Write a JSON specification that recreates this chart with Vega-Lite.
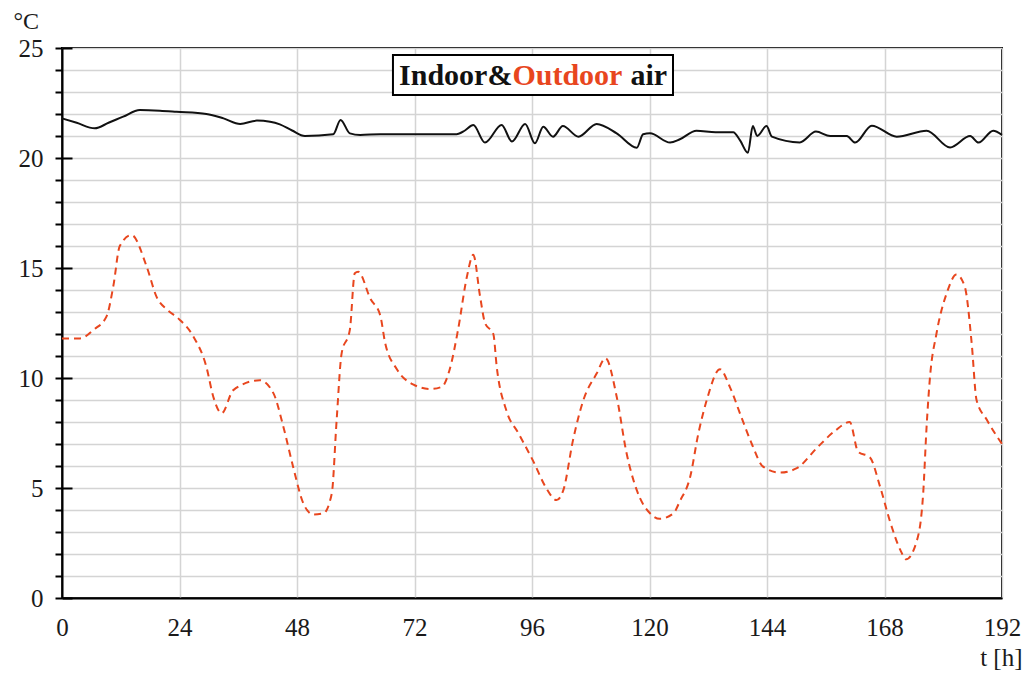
{
  "$schema": "https://vega.github.io/schema/vega-lite/v6.json",
  "width": 940,
  "height": 550,
  "autosize": {"type": "none"},
  "padding": {"left": 62, "top": 48, "right": 26, "bottom": 75},
  "background": "white",
  "config": {
    "font": "Liberation Serif",
    "view": {"stroke": "black", "strokeWidth": 2},
    "axis": {"labelFont": "Liberation Serif", "titleFont": "Liberation Serif"}
  },
  "datasets": {
    "indoor": [
      {"t": 0, "v": 21.8}, {"t": 3, "v": 21.6}, {"t": 6.7, "v": 21.35}, {"t": 9.5, "v": 21.6},
      {"t": 12.5, "v": 21.88}, {"t": 15.9, "v": 22.18}, {"t": 20, "v": 22.15}, {"t": 23.4, "v": 22.1},
      {"t": 29.5, "v": 22.0}, {"t": 33, "v": 21.8}, {"t": 36.4, "v": 21.55}, {"t": 39.8, "v": 21.7},
      {"t": 42.5, "v": 21.65}, {"t": 44.5, "v": 21.53}, {"t": 47, "v": 21.25}, {"t": 49.6, "v": 21.0},
      {"t": 55.4, "v": 21.08}, {"t": 56.9, "v": 21.73}, {"t": 58.8, "v": 21.12}, {"t": 60.9, "v": 21.05},
      {"t": 65, "v": 21.08}, {"t": 80.6, "v": 21.08}, {"t": 82.3, "v": 21.25}, {"t": 84.0, "v": 21.5},
      {"t": 86.4, "v": 20.7}, {"t": 89.8, "v": 21.5}, {"t": 91.9, "v": 20.75}, {"t": 94.6, "v": 21.55},
      {"t": 96.6, "v": 20.67}, {"t": 98.3, "v": 21.42}, {"t": 100.3, "v": 20.97}, {"t": 102.3, "v": 21.45},
      {"t": 105.5, "v": 20.97}, {"t": 109.2, "v": 21.55}, {"t": 113.3, "v": 21.12}, {"t": 117.4, "v": 20.47},
      {"t": 118.7, "v": 21.08}, {"t": 120.1, "v": 21.12}, {"t": 124.2, "v": 20.7}, {"t": 126.2, "v": 20.85},
      {"t": 129.6, "v": 21.24}, {"t": 133.5, "v": 21.17}, {"t": 137.1, "v": 21.17}, {"t": 138.5, "v": 20.8},
      {"t": 140.1, "v": 20.24}, {"t": 141.1, "v": 21.45}, {"t": 142.0, "v": 21.0}, {"t": 143.9, "v": 21.45},
      {"t": 145.0, "v": 20.97}, {"t": 150.7, "v": 20.71}, {"t": 154.0, "v": 21.2}, {"t": 156.9, "v": 21.0},
      {"t": 160.3, "v": 21.0}, {"t": 162.0, "v": 20.7}, {"t": 165.4, "v": 21.47}, {"t": 170.5, "v": 20.97},
      {"t": 176.6, "v": 21.24}, {"t": 181.4, "v": 20.48}, {"t": 185.5, "v": 21.0}, {"t": 187.2, "v": 20.7},
      {"t": 190.2, "v": 21.24}, {"t": 192, "v": 21.05}
    ],
    "outdoor": [
      {"t": 0, "v": 11.8}, {"t": 3.7, "v": 11.8}, {"t": 6.5, "v": 12.2}, {"t": 9.1, "v": 12.8},
      {"t": 10.5, "v": 14.2}, {"t": 11.8, "v": 16.0}, {"t": 14.2, "v": 16.5}, {"t": 17.3, "v": 15.06},
      {"t": 19.3, "v": 13.7}, {"t": 21.5, "v": 13.1}, {"t": 23.8, "v": 12.7}, {"t": 26.8, "v": 11.9},
      {"t": 29.5, "v": 10.5}, {"t": 30.9, "v": 9.15}, {"t": 32.6, "v": 8.4}, {"t": 35.0, "v": 9.45},
      {"t": 40.4, "v": 9.9}, {"t": 43.2, "v": 9.3}, {"t": 45.2, "v": 7.8}, {"t": 47.2, "v": 5.97},
      {"t": 49.3, "v": 4.3}, {"t": 51.3, "v": 3.8}, {"t": 53.4, "v": 3.85}, {"t": 55.1, "v": 4.75},
      {"t": 56.1, "v": 8.1}, {"t": 57.1, "v": 11.1}, {"t": 58.8, "v": 12.2}, {"t": 59.8, "v": 14.76},
      {"t": 60.5, "v": 14.83}, {"t": 63, "v": 13.6}, {"t": 65.0, "v": 12.85}, {"t": 66.0, "v": 11.6},
      {"t": 68.4, "v": 10.4}, {"t": 71.8, "v": 9.7}, {"t": 75.2, "v": 9.5}, {"t": 77.6, "v": 9.6},
      {"t": 79.2, "v": 10.4}, {"t": 80.9, "v": 12.2}, {"t": 82.7, "v": 14.6}, {"t": 84.0, "v": 15.6},
      {"t": 85.4, "v": 13.7}, {"t": 86.4, "v": 12.5}, {"t": 88.1, "v": 12.0}, {"t": 88.8, "v": 10.5},
      {"t": 90.8, "v": 8.5}, {"t": 93.2, "v": 7.5}, {"t": 96.3, "v": 6.2}, {"t": 98.9, "v": 5.0},
      {"t": 101.0, "v": 4.45}, {"t": 102.4, "v": 4.9}, {"t": 104.4, "v": 7.2}, {"t": 106.5, "v": 9.0},
      {"t": 109.2, "v": 10.2}, {"t": 111.0, "v": 10.9}, {"t": 113.3, "v": 9.15}, {"t": 115.3, "v": 6.6},
      {"t": 117.4, "v": 4.9}, {"t": 120.1, "v": 3.85}, {"t": 122.1, "v": 3.6}, {"t": 124.9, "v": 3.85},
      {"t": 126.2, "v": 4.4}, {"t": 128.3, "v": 5.5}, {"t": 130.0, "v": 7.5}, {"t": 131.7, "v": 9.0},
      {"t": 134.4, "v": 10.4}, {"t": 136.4, "v": 9.6}, {"t": 138.8, "v": 8.2}, {"t": 140.9, "v": 7.0},
      {"t": 143.2, "v": 5.97}, {"t": 146.6, "v": 5.7}, {"t": 150.1, "v": 5.9}, {"t": 154.1, "v": 6.8},
      {"t": 157.9, "v": 7.6}, {"t": 160.9, "v": 8.0}, {"t": 162.6, "v": 6.65}, {"t": 165.0, "v": 6.4},
      {"t": 167.1, "v": 5.06}, {"t": 169.1, "v": 3.5}, {"t": 171.2, "v": 2.2}, {"t": 172.4, "v": 1.76},
      {"t": 174.6, "v": 2.6}, {"t": 175.9, "v": 4.75}, {"t": 176.6, "v": 7.8}, {"t": 177.3, "v": 10.06},
      {"t": 178.6, "v": 12.0}, {"t": 180.7, "v": 13.85}, {"t": 182.7, "v": 14.7}, {"t": 184.4, "v": 14.15},
      {"t": 185.8, "v": 11.6}, {"t": 186.8, "v": 9.0}, {"t": 188.9, "v": 8.1}, {"t": 192, "v": 7.0}
    ]
  },
  "layer": [
    {
      "layer": [
        {
          "data": {"name": "indoor"},
          "mark": {"type": "line", "color": "#111111", "strokeWidth": 2, "interpolate": "monotone"},
          "encoding": {
            "x": {
              "field": "t", "type": "quantitative",
              "scale": {"domain": [0, 192], "nice": false, "zero": false},
              "axis": {
                "values": [0, 24, 48, 72, 96, 120, 144, 168, 192],
                "tickCount": 20,
                "ticks": false, "tickSize": 0,
                "domainColor": "black", "domainWidth": 2,
                "gridColor": "#d4d4d4", "gridWidth": 1.5,
                "labelFontSize": 25, "labelColor": "#1a1a1a", "labelPadding": 17,
                "labelFlush": false, "labelOverlap": false,
                "title": "t [h]", "titleFontSize": 25, "titleFontWeight": "normal", "titleColor": "#1a1a1a",
                "titleX": 960, "titleY": 67, "titleAlign": "right", "titleBaseline": "alphabetic", "titleAnchor": null
              }
            },
            "y": {
              "field": "v", "type": "quantitative",
              "scale": {"domain": [0, 25], "nice": false},
              "axis": {
                "values": [0,1,2,3,4,5,6,7,8,9,10,11,12,13,14,15,16,17,18,19,20,21,22,23,24,25],
                "tickCount": 30,
                "labelExpr": "datum.value % 5 === 0 ? datum.label : ''",
                "tickSize": 7, "tickColor": "black", "tickWidth": 2,
                "domainColor": "black", "domainWidth": 2,
                "gridColor": "#d4d4d4", "gridWidth": 1.5,
                "labelFontSize": 25, "labelColor": "#1a1a1a", "labelPadding": 12, "labelOverlap": false,
                "title": "°C", "titleFontSize": 24, "titleFontWeight": "normal", "titleColor": "#1a1a1a",
                "titleAngle": 0, "titleX": -49, "titleY": -20, "titleAlign": "left", "titleBaseline": "alphabetic", "titleAnchor": null
              }
            }
          }
        },
        {
          "data": {"name": "outdoor"},
          "mark": {"type": "line", "color": "#e8461e", "strokeWidth": 2, "strokeDash": [7, 5], "interpolate": "monotone"},
          "encoding": {
            "x": {"field": "t", "type": "quantitative"},
            "y": {"field": "v", "type": "quantitative"}
          }
        }
      ]
    },
    {
      "data": {"values": [{}]},
      "layer": [
        {
          "mark": {"type": "rect", "fill": "white", "stroke": "black", "strokeWidth": 2},
          "encoding": {
            "x": {"datum": 67.6, "type": "quantitative"},
            "x2": {"datum": 124.8},
            "y": {
              "datum": 24.68, "type": "quantitative",
              "axis": {
                "orient": "left",
                "values": [0, 5, 10, 15, 20, 25],
                "tickCount": 10,
                "tickSize": -10, "tickColor": "black", "tickWidth": 2,
                "labels": false, "domain": false, "grid": false, "title": null
              }
            },
            "y2": {"datum": 22.86}
          }
        },
        {
          "mark": {"type": "text", "font": "Liberation Serif", "fontWeight": "bold", "fontSize": 30, "align": "right", "baseline": "alphabetic", "color": "#111111"},
          "encoding": {
            "x": {"datum": 92.0, "type": "quantitative"},
            "y": {"datum": 23.32, "type": "quantitative"},
            "text": {"value": "Indoor&"}
          }
        },
        {
          "mark": {"type": "text", "font": "Liberation Serif", "fontWeight": "bold", "fontSize": 30, "align": "left", "baseline": "alphabetic", "color": "#e8461e"},
          "encoding": {
            "x": {"datum": 92.0, "type": "quantitative"},
            "y": {"datum": 23.32, "type": "quantitative"},
            "text": {"value": "Outdoor"}
          }
        },
        {
          "mark": {"type": "text", "font": "Liberation Serif", "fontWeight": "bold", "fontSize": 30, "align": "left", "baseline": "alphabetic", "color": "#111111"},
          "encoding": {
            "x": {"datum": 116.1, "type": "quantitative"},
            "y": {"datum": 23.32, "type": "quantitative"},
            "text": {"value": "air"}
          }
        }
      ]
    }
  ],
  "resolve": {"axis": {"y": "independent"}}
}
